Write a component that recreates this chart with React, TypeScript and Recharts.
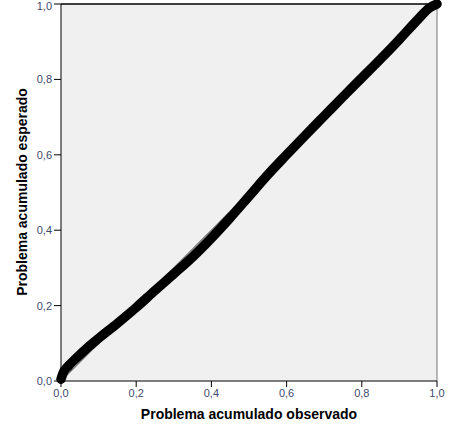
import { CartesianGrid, Label, Line, LineChart, ReferenceLine, XAxis, YAxis } from "recharts";

const observado = [0, 0.005, 0.02, 0.04, 0.07, 0.1, 0.15, 0.2, 0.25, 0.3, 0.35, 0.4, 0.45, 0.5, 0.55, 0.6, 0.65, 0.7, 0.75, 0.8, 0.85, 0.9, 0.95, 0.98, 1.0];
const esperado = [0.005, 0.02, 0.04, 0.06, 0.088, 0.113, 0.153, 0.195, 0.24, 0.284, 0.329, 0.379, 0.433, 0.49, 0.547, 0.6, 0.652, 0.703, 0.754, 0.804, 0.854, 0.906, 0.96, 0.99, 1.0];
const ticks = [0, 0.2, 0.4, 0.6, 0.8, 1.0];

const puntos = observado.map((x, i) => ({ x, y: esperado[i] }));
const diagonal = [
  { x: 0, y: 0 },
  { x: 1, y: 1 },
];

const fmt = (v: number) => v.toFixed(1).replace(".", ",");
const tickStyle = { fontSize: 11, fill: "#3f4a6e", fontFamily: "Liberation Sans, Arial, sans-serif" };
const labelFont = "Liberation Sans, Arial, sans-serif";

export default function App() {
  return (
    <div style={{ position: "absolute", left: 0, top: 0, background: "#fff" }}>
      <LineChart width={452} height={425} margin={{ top: 4, right: 15, left: 0, bottom: 0 }}>
        <CartesianGrid fill="#f0f0f0" horizontal={false} vertical={false} />
        <XAxis
          type="number"
          dataKey="x"
          domain={[0, 1]}
          ticks={ticks}
          tickFormatter={fmt}
          tick={tickStyle}
          tickSize={6}
          height={44}
          stroke="#000"
          tickLine={{ stroke: "#000" }}
          allowDuplicatedCategory={false}
        >
          <Label
            content={() => (
              <text x={249} y={419} textAnchor="middle" fontSize={14} fontWeight="bold" fontFamily={labelFont} fill="#000">
                Problema acumulado observado
              </text>
            )}
          />
        </XAxis>
        <YAxis
          type="number"
          dataKey="y"
          domain={[0, 1]}
          ticks={ticks}
          tickFormatter={fmt}
          tick={tickStyle}
          tickSize={7}
          width={61}
          stroke="#000"
          tickLine={{ stroke: "#000" }}
        >
          <Label
            content={() => (
              <text
                x={27}
                y={192}
                textAnchor="middle"
                fontSize={14}
                fontWeight="bold"
                fontFamily={labelFont}
                fill="#000"
                transform="rotate(-90 27 192)"
              >
                Problema acumulado esperado
              </text>
            )}
          />
        </YAxis>
        <ReferenceLine y={1} stroke="#000" strokeWidth={1.5} />
        <ReferenceLine x={1} stroke="#777" strokeWidth={1} />
        <Line
          data={diagonal}
          dataKey="y"
          stroke="#777"
          strokeWidth={1.2}
          dot={false}
          isAnimationActive={false}
        />
        <Line
          data={puntos}
          dataKey="y"
          type="monotone"
          stroke="#000"
          strokeWidth={9.5}
          strokeLinecap="round"
          strokeLinejoin="round"
          dot={false}
          isAnimationActive={false}
        />
      </LineChart>
    </div>
  );
}
